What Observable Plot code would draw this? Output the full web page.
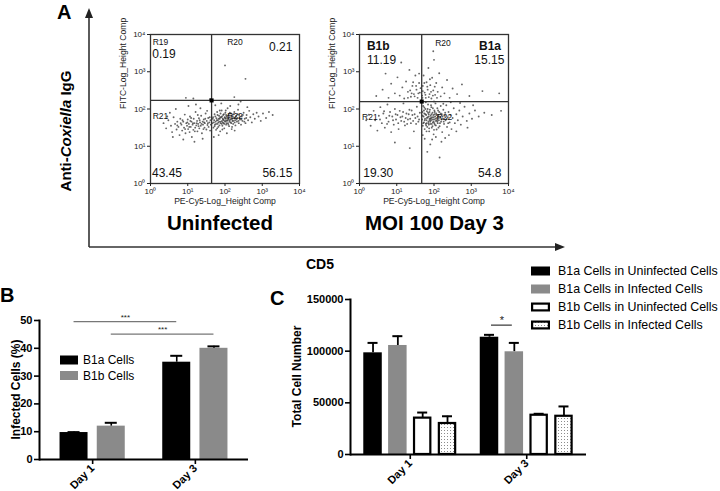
<!DOCTYPE html>
<html>
<head>
<meta charset="utf-8">
<script src="https://cdn.jsdelivr.net/npm/d3@7"></script>
<script src="https://cdn.jsdelivr.net/npm/@observablehq/plot@0.6"></script>
<style>
html,body{margin:0;padding:0;background:#fff;}
#fig{position:relative;width:720px;height:491px;overflow:hidden;background:#fff;}
#fig svg{position:absolute;}
</style>
</head>
<body>
<div id="fig"></div>
<script>
// ---------------- Panel A: flow cytometry (log10 units) ----------------
const flowTicks = [0, 1, 2, 3, 4];
const flowTickLabels = ["10⁰", "10¹", "10²", "10³", "10⁴"];
const flowXLabel = "PE-Cy5-Log_Height Comp";
const flowYLabel = "FITC-Log_Height Comp";
const uninfectedTitle = "Uninfected";
const moiTitle = "MOI 100 Day 3";
const uninfectedGate = [1.64, 2.23];
const moiGate = [1.67, 2.20];

const uninfectedPoints = [
[0.35,1.62],[0.42,1.48],[0.48,1.70],[0.55,1.55],[0.58,1.38],[0.62,1.78],[0.66,1.60],[0.70,1.45],[0.72,1.66],[0.75,1.52],
[0.78,1.30],[0.80,1.74],[0.83,1.58],[0.85,1.42],[0.88,1.66],[0.90,1.50],[0.92,1.85],[0.94,1.35],[0.96,1.62],[0.98,1.55],
[1.00,1.72],[1.01,1.46],[1.03,1.60],[1.05,1.38],[1.06,1.80],[1.08,1.52],[1.10,1.66],[1.11,1.25],[1.13,1.58],[1.15,1.44],
[1.16,1.74],[1.18,1.62],[1.20,1.50],[1.21,1.92],[1.23,1.56],[1.25,1.68],[1.26,1.40],[1.28,1.60],[1.30,1.75],[1.31,1.48],
[1.33,1.64],[1.35,1.55],[1.36,1.82],[1.38,1.35],[1.40,1.66],[1.41,1.58],[1.43,1.72],[1.45,1.50],[1.46,1.62],[1.48,1.88],
[1.50,1.45],[1.51,1.68],[1.53,1.57],[1.55,1.76],[1.56,1.52],[1.58,1.64],[1.60,1.42],[1.61,1.70],[1.62,1.58],[0.52,1.90],
[0.68,2.00],[1.02,2.08],[1.22,2.12],[0.88,1.18],[1.18,1.12],[1.40,1.20],[0.60,1.25],[1.34,2.02],[0.45,1.80],[1.52,1.95],
[0.72,1.56],[0.86,1.70],[0.93,1.46],[0.99,1.64],[1.04,1.52],[1.09,1.76],[1.14,1.62],[1.19,1.40],[1.24,1.62],[1.29,1.54],
[1.32,1.70],[1.37,1.60],[1.42,1.46],[1.47,1.74],[1.54,1.62],[1.59,1.78],[1.27,1.84],[1.07,1.68],[0.81,1.62],[1.44,1.64],
[1.66,1.62],[1.68,1.78],[1.69,1.50],[1.71,1.70],[1.72,1.86],[1.73,1.58],[1.75,1.66],[1.76,1.44],[1.77,1.75],[1.79,1.92],
[1.80,1.60],[1.81,1.70],[1.82,1.52],[1.84,1.82],[1.85,1.66],[1.86,1.74],[1.87,1.40],[1.88,1.62],[1.90,1.78],[1.91,1.96],
[1.92,1.68],[1.93,1.55],[1.94,1.74],[1.95,1.84],[1.96,1.62],[1.97,1.70],[1.98,1.48],[1.99,1.78],[2.00,1.66],[2.01,1.90],
[2.02,1.74],[2.03,1.58],[2.04,1.80],[2.05,1.68],[2.06,1.76],[2.07,2.02],[2.08,1.62],[2.09,1.72],[2.10,1.84],[2.11,1.54],
[2.12,1.70],[2.13,1.78],[2.15,1.64],[2.16,1.88],[2.17,1.74],[2.18,1.46],[2.20,1.68],[2.21,1.80],[2.22,1.60],[2.24,1.76],
[2.25,1.92],[2.27,1.70],[2.28,1.56],[2.30,1.82],[2.32,1.66],[2.33,1.76],[2.35,1.98],[2.37,1.62],[2.38,1.84],[2.40,1.72],
[2.43,1.58],[2.45,1.80],[2.47,1.68],[2.50,1.90],[2.53,1.74],[2.55,1.62],[2.58,1.84],[2.62,1.70],[2.65,1.95],[2.68,1.78],
[2.72,1.64],[2.76,1.86],[2.80,1.74],[2.85,1.90],[2.90,1.80],[2.96,1.68],[3.02,1.88],[3.10,1.76],[3.18,1.92],[3.28,1.84],
[1.74,2.10],[1.90,2.15],[2.14,2.08],[2.36,2.12],[1.83,1.30],[2.05,1.35],[2.26,1.42],[2.60,2.05],[1.70,1.25],[2.42,2.20],
[1.67,1.74],[1.70,1.64],[1.72,1.54],[1.74,1.80],[1.76,1.60],[1.78,1.70],[1.80,1.84],[1.82,1.64],[1.83,1.74],[1.85,1.56],
[1.87,1.78],[1.88,1.88],[1.89,1.66],[1.91,1.60],[1.92,1.80],[1.94,1.64],[1.95,1.72],[1.97,1.86],[1.98,1.60],[2.00,1.76],
[2.01,1.68],[2.03,1.84],[2.04,1.62],[2.06,1.70],[2.07,1.82],[2.09,1.58],[2.10,1.76],[2.12,1.66],[2.13,1.90],[2.15,1.72],
[2.17,1.62],[2.18,1.82],[2.20,1.74],[2.22,1.68],[2.23,1.86],[2.26,1.64],[2.28,1.78],[2.31,1.72],[2.34,1.86],[2.36,1.68],
[2.39,1.78],[2.44,1.72],[2.48,1.84],[2.52,1.66],[2.57,1.76],[1.93,1.45],[2.02,1.96],[1.86,1.96],[2.19,1.52],[1.79,1.48],
[0.95,2.30],[1.15,2.28],[1.60,2.26],[2.00,3.17],[2.55,2.81],[2.25,2.32]
];

const moiPoints = [
[0.45,2.35],[0.62,2.52],[0.78,2.30],[0.85,2.68],[0.95,2.42],[1.02,2.85],[1.08,2.36],[1.15,2.58],[1.20,2.28],[1.25,2.74],
[1.30,2.46],[1.34,3.05],[1.38,2.33],[1.42,2.62],[1.46,2.40],[1.50,2.90],[1.53,2.52],[1.56,2.30],[1.60,2.70],[1.62,2.44],
[0.70,2.95],[1.12,3.25],[1.30,2.30],[1.36,2.50],[1.44,2.72],[1.48,2.34],[1.52,2.62],[1.58,2.42],[1.64,2.56],[1.40,2.42],
[1.60,2.95],
[1.68,2.36],[1.70,2.62],[1.72,2.90],[1.75,2.44],[1.78,2.30],[1.80,2.72],[1.83,2.52],[1.85,3.10],[1.88,2.40],[1.90,2.64],
[1.93,2.28],[1.95,2.84],[1.98,2.50],[2.00,3.32],[2.03,2.38],[2.06,2.70],[2.10,2.46],[2.14,2.96],[2.18,2.34],[2.22,2.58],
[2.28,2.42],[2.35,2.78],[2.42,2.30],[2.50,2.55],[2.62,2.40],[2.75,2.66],[2.95,2.35],[3.30,2.48],[3.75,2.42],[1.98,3.55],
[1.69,2.30],[1.70,2.48],[1.74,2.70],[1.77,2.38],[1.82,2.60],[1.86,2.32],[1.89,2.80],[1.92,2.46],[1.97,2.36],[2.02,2.60],
[2.08,2.30],
[0.18,1.70],[0.25,1.85],[0.30,1.55],[0.38,1.95],[0.42,1.70],[0.48,1.42],[0.52,1.82],[0.56,2.05],[0.60,1.62],[0.64,1.88],
[0.68,1.50],[0.72,1.76],[0.75,2.12],[0.78,1.66],[0.82,1.92],[0.85,1.38],[0.88,1.80],[0.92,1.58],[0.95,2.00],[0.98,1.72],
[1.02,1.84],[1.05,1.46],[1.08,1.95],[1.12,1.68],[1.15,1.80],[1.18,2.15],[1.22,1.56],[1.26,1.88],[1.30,1.72],[1.34,1.98],
[1.38,1.62],[1.42,1.84],[1.46,1.40],[1.50,1.76],[1.54,2.06],[1.58,1.66],[1.62,1.90],[0.95,1.10],[1.35,0.95],
[0.55,1.72],[0.66,1.94],[0.74,1.60],[0.80,1.82],[0.90,1.70],[0.97,1.86],[1.04,1.62],[1.10,1.78],[1.17,1.92],[1.20,1.66],
[1.24,1.76],[1.28,1.60],[1.32,1.86],[1.36,1.74],[1.40,1.96],[1.44,1.68],[1.48,1.86],[1.52,1.60],[1.56,1.80],[1.60,1.72],
[1.68,1.72],[1.69,1.92],[1.70,1.55],[1.71,2.08],[1.72,1.80],[1.73,1.64],[1.74,1.88],[1.75,1.46],[1.76,1.74],[1.77,2.00],
[1.78,1.60],[1.79,1.84],[1.80,1.70],[1.81,1.94],[1.82,1.52],[1.83,1.78],[1.84,2.12],[1.85,1.66],[1.86,1.86],[1.87,1.40],
[1.88,1.74],[1.89,1.98],[1.90,1.60],[1.91,1.82],[1.92,1.70],[1.93,2.05],[1.94,1.50],[1.95,1.78],[1.96,1.90],[1.97,1.64],
[1.98,1.84],[1.99,1.32],[2.00,1.72],[2.01,1.96],[2.02,1.58],[2.03,1.80],[2.04,2.15],[2.05,1.68],[2.06,1.88],[2.07,1.45],
[2.08,1.76],[2.09,2.02],[2.10,1.62],[2.12,1.84],[2.13,1.70],[2.14,1.92],[2.15,1.54],[2.17,1.78],[2.18,2.08],[2.19,1.66],
[2.21,1.86],[2.22,1.38],[2.24,1.74],[2.25,1.98],[2.27,1.60],[2.29,1.82],[2.31,1.70],[2.33,2.10],[2.35,1.52],[2.37,1.78],
[2.39,1.92],[2.42,1.64],[2.44,1.84],[2.47,1.46],[2.50,1.76],[2.53,2.02],[2.56,1.62],[2.60,1.86],[2.64,1.70],[2.68,1.96],
[2.72,1.58],[2.77,1.80],[2.82,2.06],[2.88,1.68],[2.95,1.88],[3.02,1.74],[3.10,1.96],[3.20,1.80],[3.35,1.90],[3.55,1.84],
[3.80,1.95],[1.75,1.20],[1.90,1.05],[2.05,1.25],[2.20,1.12],[2.40,1.30],[1.82,0.85],[2.15,0.70],[1.70,1.30],[2.30,1.22],
[2.60,1.40],[2.90,1.50],[1.95,1.18],[2.45,2.18],[2.70,2.16],[1.78,2.18],[2.00,2.20],[2.25,2.14],[3.05,2.10],[1.86,1.58],
[1.92,1.76],[1.80,1.62],[2.02,1.86],[1.88,1.70],[1.96,1.54],[2.08,1.70],[1.84,1.90],[1.99,1.66],[2.11,1.80],
[1.69,1.82],[1.71,1.62],[1.73,1.96],[1.75,1.70],[1.77,1.86],[1.79,1.56],[1.81,1.76],[1.83,2.00],[1.85,1.62],[1.86,1.80],
[1.88,1.92],[1.90,1.66],[1.91,1.74],[1.93,1.86],[1.94,1.60],[1.96,1.72],[1.97,2.02],[1.99,1.78],[2.01,1.62],[2.02,1.92],
[2.04,1.74],[2.05,1.56],[2.07,1.84],[2.09,1.66],[2.11,1.96],[2.13,1.76],[2.16,1.62],[2.18,1.88],[2.20,1.72],[2.23,1.80],
[2.26,1.66],[2.30,1.90],[2.34,1.74],[2.38,1.62],[1.74,2.04],[1.87,1.48],[2.00,1.44],[1.92,2.10],[2.12,1.50],[1.80,1.40]
];

// quadrant / region labels (text, position in log10 units)
const uninfectedLabels = [
  {text: "R19",   x: 0.06, y: 3.79, anchor: "start", size: 8.5},
  {text: "0.19",  x: 0.05, y: 3.46, anchor: "start", size: 12},
  {text: "R20",   x: 2.06, y: 3.80, anchor: "start", size: 8.5},
  {text: "0.21",  x: 3.81, y: 3.66, anchor: "end",   size: 12},
  {text: "R21",   x: 0.06, y: 1.80, anchor: "start", size: 8.5},
  {text: "R22",   x: 2.06, y: 1.80, anchor: "start", size: 8.5},
  {text: "43.45", x: 0.04, y: 0.28, anchor: "start", size: 12},
  {text: "56.15", x: 3.81, y: 0.28, anchor: "end",   size: 12}
];
const moiLabels = [
  {text: "B1b",   x: 0.20, y: 3.68, anchor: "start", size: 12, weight: "bold"},
  {text: "11.19", x: 0.20, y: 3.31, anchor: "start", size: 12},
  {text: "R20",   x: 2.24, y: 3.77, anchor: "middle", size: 8.5},
  {text: "B1a",   x: 3.80, y: 3.68, anchor: "end",   size: 12, weight: "bold"},
  {text: "15.15", x: 3.89, y: 3.31, anchor: "end",   size: 12},
  {text: "R21",   x: 0.07, y: 1.79, anchor: "start", size: 8.5},
  {text: "R22",   x: 2.07, y: 1.79, anchor: "start", size: 8.5},
  {text: "19.30", x: 0.10, y: 0.27, anchor: "start", size: 12},
  {text: "54.8",  x: 3.81, y: 0.27, anchor: "end",   size: 12}
];

// ---------------- Panel B: infected cells (%) ----------------
const daysB = ["Day 1", "Day 3"];
const cellsB = ["B1a Cells", "B1b Cells"];
const infectedB1a = [9.7, 35.0];
const infectedB1aErr = [0.15, 2.3];
const infectedB1b = [12.0, 40.0];
const infectedB1bErr = [1.2, 0.7];
const ticksB = [0, 10, 20, 30, 40, 50];
const yLabelB = "Infected Cells (%)";
const sigB = [
  {from: "Day 1", to: "Day 3", series: 0, y: 49.6, text: "***"},
  {from: "Day 1", to: "Day 3", series: 1, y: 45.1, text: "***"}
];

// ---------------- Panel C: total cell number ----------------
const daysC = ["Day 1", "Day 3"];
const seriesC = ["B1a Cells in Uninfected Cells", "B1a Cells in Infected Cells",
                 "B1b Cells in Uninfected Cells", "B1b Cells in Infected Cells"];
const b1aUninfected = [98400, 113500];
const b1aUninfectedErr = [9600, 2300];
const b1aInfected = [105500, 99400];
const b1aInfectedErr = [9000, 8600];
const b1bUninfected = [35200, 38000];
const b1bUninfectedErr = [5400, 1400];
const b1bInfected = [30000, 37000];
const b1bInfectedErr = [7000, 9500];
const ticksC = [0, 50000, 100000, 150000];
const tickLabelsC = ["0", "50000", "100000", "150000"];
const yLabelC = "Total Cell Number";
const sigC = [{day: "Day 3", from: 0, to: 1, y: 125200, text: "*"}];

// ---------------- styles ----------------
const FONT = '"Liberation Sans", Arial, Helvetica, sans-serif';
const GREY = "#8a8a8a";
const fillsB = ["#000", GREY];
const fillsC = ["#000", GREY, "#fff", "url(#dotsC)"];
const strokesC = ["none", "none", "#000", "#000"];

const fig = document.getElementById("fig");
function place(el, left, top) {
  el.style.position = "absolute";
  el.style.left = left + "px";
  el.style.top = top + "px";
  fig.appendChild(el);
  return el;
}
function bandGeom(total, n, pi, po) {
  const step = total / (n - pi + 2 * po);
  return {step, band: step * (1 - pi)};
}

// ---------- flow plots ----------
function flowPlot(points, gate, labels) {
  const pts = points.map(([x, y]) => ({x, y}));
  return Plot.plot({
    width: 195, height: 183,
    marginLeft: 40, marginRight: 6, marginTop: 6, marginBottom: 28,
    style: {fontFamily: FONT, background: "transparent", color: "#222", overflow: "visible"},
    x: {domain: [0, 4]},
    y: {domain: [0, 4]},
    marks: [
      Plot.dot(pts, {x: "x", y: "y", r: 0.95, fill: "#333", fillOpacity: 0.75}),
      Plot.ruleX([gate[0]], {stroke: "#333", strokeWidth: 1.3}),
      Plot.ruleY([gate[1]], {stroke: "#333", strokeWidth: 1.3}),
      Plot.dot([gate], {x: d => d[0], y: d => d[1], symbol: "square", r: 2.3, fill: "#000"}),
      Plot.frame({stroke: "#333", strokeWidth: 1.3}),
      Plot.axisX({ticks: flowTicks, tickFormat: v => flowTickLabels[v], tickSize: 3, tickPadding: 1.5, fontSize: 8, label: null}),
      Plot.axisY({ticks: flowTicks, tickFormat: v => flowTickLabels[v], tickSize: 3, tickPadding: 2, fontSize: 8, label: null}),
      Plot.text([flowXLabel], {frameAnchor: "bottom", dy: 20, fontSize: 8.6, text: d => d, fill: "#222"}),
      Plot.text([flowYLabel], {frameAnchor: "left", dx: -27, rotate: -90, fontSize: 8.6, text: d => d, fill: "#222"}),
      ...labels.map(l => Plot.text([l], {x: "x", y: "y", text: "text", textAnchor: l.anchor,
        fontSize: l.size, fontWeight: l.weight || "normal", fill: "#111"}))
    ]
  });
}
place(flowPlot(uninfectedPoints, uninfectedGate, uninfectedLabels), 110, 28);
place(flowPlot(moiPoints, moiGate, moiLabels), 319, 28);

// ---------- panel B ----------
const WB = 260, HB = 191, MLB = 39, MRB = 12, MTB = 20, MBB = 32, PIB = 0.365, POB = 0.2;
const gB = bandGeom(WB - MLB - MRB, daysB.length, PIB, POB);
const barWB = 28, capWB = 12;
const valuesB = [infectedB1a, infectedB1b], errsB = [infectedB1aErr, infectedB1bErr];
const barLeftB = i => i * (gB.band - barWB) / (cellsB.length - 1);
const plotB = Plot.plot({
  width: WB, height: HB, marginLeft: MLB, marginRight: MRB, marginTop: MTB, marginBottom: MBB,
  style: {fontFamily: FONT, background: "transparent", color: "#000", overflow: "visible"},
  x: {domain: daysB, paddingInner: PIB, paddingOuter: POB, round: false},
  y: {domain: [0, 50]},
  marks: [
    ...cellsB.flatMap((cell, i) => {
      const data = daysB.map((day, j) => ({day, cell, value: valuesB[i][j], err: errsB[i][j]}));
      const left = barLeftB(i), c = left + barWB / 2;
      return [
        Plot.barY(data, {x: "day", y: "value", fill: fillsB[i], insetLeft: left, insetRight: gB.band - barWB - left}),
        Plot.ruleX(data, {x: "day", y1: "value", y2: d => d.value + d.err, dx: c - gB.band / 2, stroke: "#000", strokeWidth: 1.6}),
        Plot.tickY(data, {x: "day", y: d => d.value + d.err, insetLeft: c - capWB / 2, insetRight: gB.band - c - capWB / 2, stroke: "#000", strokeWidth: 2})
      ];
    }),
    ...sigB.flatMap(s => {
      const c = barLeftB(s.series) + barWB / 2;
      return [
        Plot.ruleY([s], {x1: "from", x2: "to", y: "y", insetLeft: c, insetRight: gB.band - c, stroke: "#777", strokeWidth: 1.3}),
        Plot.text([s], {x: "from", y: "y", text: "text", dx: c - gB.band / 2 + gB.step / 2, dy: -4.6, fontSize: 8, fill: "#222"})
      ];
    }),
    Plot.ruleY([0], {stroke: "#000", strokeWidth: 2}),
    Plot.frame({anchor: "left", stroke: "#000", strokeWidth: 2}),
    Plot.axisY({ticks: ticksB, tickSize: 5, tickPadding: 2, fontSize: 11, fontWeight: "bold", strokeWidth: 1.6, label: null}),
    Plot.axisX({tickSize: 5, tickPadding: 2, tickRotate: -45, fontSize: 11, fontWeight: "bold", strokeWidth: 1.6, label: null})
  ]
});
place(plotB, 0, 300);

// ---------- panel C ----------
const WC = 300, HC = 206, MLC = 60, MRC = 4, MTC = 14, MBC = 37, PIC = 0.2017, POC = 0.114;
const gC = bandGeom(WC - MLC - MRC, daysC.length, PIC, POC);
const barWC = 18.5, capWC = 10;
const valuesC = [b1aUninfected, b1aInfected, b1bUninfected, b1bInfected];
const errsC = [b1aUninfectedErr, b1aInfectedErr, b1bUninfectedErr, b1bInfectedErr];
const barLeftC = i => i * (gC.band - barWC) / (seriesC.length - 1);
const plotC = Plot.plot({
  width: WC, height: HC, marginLeft: MLC, marginRight: MRC, marginTop: MTC, marginBottom: MBC,
  style: {fontFamily: FONT, background: "transparent", color: "#000", overflow: "visible"},
  x: {domain: daysC, paddingInner: PIC, paddingOuter: POC, round: false},
  y: {domain: [0, 150000]},
  marks: [
    ...seriesC.flatMap((name, i) => {
      const data = daysC.map((day, j) => ({day, name, value: valuesC[i][j], err: errsC[i][j]}));
      const left = barLeftC(i), c = left + barWC / 2;
      const sw = strokesC[i] === "none" ? 0 : 2.2;
      return [
        Plot.ruleX(data, {x: "day", y1: "value", y2: d => d.value + d.err, dx: c - gC.band / 2, stroke: "#000", strokeWidth: 1.8}),
        Plot.tickY(data, {x: "day", y: d => d.value + d.err, insetLeft: c - capWC / 2, insetRight: gC.band - c - capWC / 2, stroke: "#000", strokeWidth: 2}),
        Plot.barY(data, {x: "day", y: "value", fill: fillsC[i], stroke: strokesC[i], strokeWidth: sw,
          insetLeft: left + sw / 2, insetRight: gC.band - barWC - left + sw / 2})
      ];
    }),
    ...sigC.flatMap(s => {
      const c1 = barLeftC(s.from) + barWC / 2 + 2, c2 = barLeftC(s.to) + barWC / 2 - 2;
      return [
        Plot.ruleY([s], {x1: "day", x2: "day", y: "y", insetLeft: c1, insetRight: gC.band - c2, stroke: "#333", strokeWidth: 1.2}),
        Plot.text([s], {x: "day", y: "y", text: "text", dx: (c1 + c2) / 2 - gC.band / 2, dy: -4.5, fontSize: 11, fill: "#222"})
      ];
    }),
    Plot.ruleY([0], {stroke: "#000", strokeWidth: 2}),
    Plot.frame({anchor: "left", stroke: "#000", strokeWidth: 2}),
    Plot.axisY({ticks: ticksC, tickFormat: v => tickLabelsC[ticksC.indexOf(v)], tickSize: 5, tickPadding: 2, fontSize: 11, fontWeight: "bold", strokeWidth: 1.6, label: null}),
    Plot.axisX({tickSize: 5, tickPadding: 2, tickRotate: -45, fontSize: 11, fontWeight: "bold", strokeWidth: 1.6, label: null})
  ]
});
function addDots(svgEl, id) {
  const pat = d3.select(svgEl).insert("defs", ":first-child").append("pattern")
    .attr("id", id).attr("width", 3).attr("height", 3).attr("patternUnits", "userSpaceOnUse");
  pat.append("rect").attr("width", 3).attr("height", 3).attr("fill", "#fff");
  pat.append("rect").attr("x", 1).attr("y", 1).attr("width", 1).attr("height", 1).attr("fill", "#8c8c8c");
}
addDots(plotC, "dotsC");
place(plotC, 290, 285);

// ---------- overlay: panel A axes, titles, axis titles, legends ----------
const ov = d3.create("svg").attr("width", 720).attr("height", 491)
  .style("position", "absolute").style("left", "0px").style("top", "0px")
  .style("pointer-events", "none").style("font-family", FONT);
addDots(ov.node(), "dotsLegend");
// arrows
ov.append("line").attr("x1", 89).attr("y1", 247).attr("x2", 89).attr("y2", 16).attr("stroke", "#333").attr("stroke-width", 1.6);
ov.append("path").attr("d", "M89,8 L85,18 L93,18 Z").attr("fill", "#222");
ov.append("line").attr("x1", 89).attr("y1", 247).attr("x2", 557).attr("y2", 247).attr("stroke", "#333").attr("stroke-width", 1.6);
ov.append("path").attr("d", "M565,247 L555,243 L555,251 Z").attr("fill", "#222");
// panel letters
const letters = [["A", 57, 19], ["B", 0, 302], ["C", 270, 305]];
letters.forEach(([t, x, y]) => ov.append("text").attr("x", x).attr("y", y).attr("font-size", 20).attr("font-weight", "bold").text(t));
ov.append("text").attr("x", 320).attr("y", 269).attr("text-anchor", "middle").attr("font-size", 14).attr("font-weight", "bold").text("CD5");
const yl = ov.append("text").attr("transform", "translate(71,131) rotate(-90)").attr("text-anchor", "middle")
  .attr("font-size", 15).attr("font-weight", "bold");
yl.append("tspan").text("Anti-");
yl.append("tspan").attr("font-style", "italic").text("Coxiella");
yl.append("tspan").text(" IgG");
ov.append("text").attr("x", 220).attr("y", 230).attr("text-anchor", "middle").attr("font-size", 20.5).attr("font-weight", "bold").text(uninfectedTitle);
ov.append("text").attr("x", 434.5).attr("y", 230).attr("text-anchor", "middle").attr("font-size", 20.5).attr("font-weight", "bold").text(moiTitle);
// y-axis titles of panels B and C (centred on their frames)
ov.append("text").attr("transform", `translate(19.5,${300 + (MTB + HB - MBB) / 2}) rotate(-90)`).attr("text-anchor", "middle")
  .attr("font-size", 12).attr("font-weight", "bold").text(yLabelB);
ov.append("text").attr("transform", `translate(300.5,${285 + (MTC + HC - MBC) / 2}) rotate(-90)`).attr("text-anchor", "middle")
  .attr("font-size", 12).attr("font-weight", "bold").text(yLabelC);
// legend B
cellsB.forEach((name, i) => {
  const cy = 360 + i * 15.5;
  ov.append("rect").attr("x", 60).attr("y", cy - 4.5).attr("width", 18).attr("height", 9).attr("fill", fillsB[i]);
  ov.append("text").attr("x", 83).attr("y", cy + 4.2).attr("font-size", 12).text(name);
});
// legend C
const legFillsC = ["#000", GREY, "#fff", "url(#dotsLegend)"];
seriesC.forEach((name, i) => {
  const cy = 271 + i * 18;
  const sw = strokesC[i] === "none" ? 0 : 2.2;
  ov.append("rect").attr("x", 531 + sw / 2).attr("y", cy - 4.5 + sw / 2).attr("width", 19 - sw).attr("height", 9 - sw)
    .attr("fill", legFillsC[i]).attr("stroke", strokesC[i]).attr("stroke-width", sw);
  ov.append("text").attr("x", 558).attr("y", cy + 4.4).attr("font-size", 12.4).text(name);
});
fig.appendChild(ov.node());
</script>
</body>
</html>
